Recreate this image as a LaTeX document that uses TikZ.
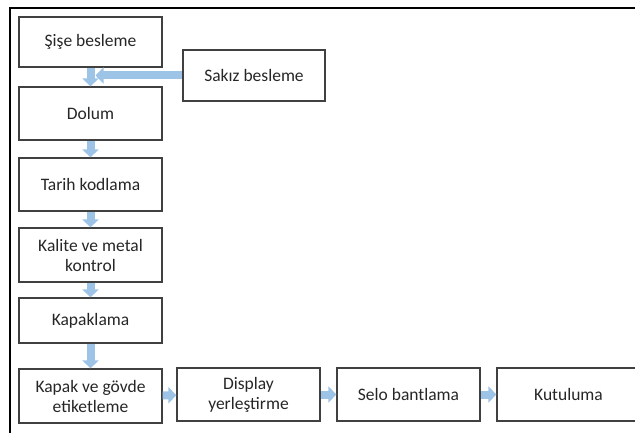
\documentclass[tikz,border=0pt]{standalone}
\usepackage{fontspec}
\setmainfont{Carlito}
\usetikzlibrary{arrows.meta, calc}

\definecolor{flowblue}{RGB}{157, 195, 230}
\definecolor{boxline}{RGB}{64, 64, 64}

\begin{document}
\begin{tikzpicture}[x = 1pt, y = -1pt,
	box/.style = {draw = boxline, line width = 1.2pt, minimum width = 143pt, minimum height = 53pt,
		align = center, font = \fontsize{17.5}{20}\selectfont, inner sep = 2pt, text = black!85},
	flow/.style = {draw = flowblue, line width = 8pt, -{Triangle[width = 16pt, length = 8pt]}}]

% Page size

\useasboundingbox (0, 0) rectangle (635, 433);

% Outer frame

\draw [line width = 1.8pt] (10, 440) -- (10, 8) -- (645, 8);

% Main column

\node [box, minimum height = 50pt] (sise) at (90.5, 42) {Şişe besleme};
\node [box, minimum height = 51pt, minimum width = 142pt] (sakiz) at (254, 75.5) {Sakız besleme};
\node [box] (dolum) at (90.5, 113.5) {Dolum};
\node [box] (tarih) at (90.5, 184.5) {Tarih kodlama};
\node [box, minimum height = 54pt] (kalite) at (90.5, 255) {Kalite ve metal\\kontrol};
\node [box, minimum height = 45pt] (kapaklama) at (90.5, 320.5) {Kapaklama};
\node [box, minimum height = 54pt] (etiket) at (90.5, 396) {Kapak ve gövde\\etiketleme};

% Bottom row

\node [box] (display) at (248.5, 394.5) {Display\\yerleştirme};
\node [box] (selo) at (408.5, 394.5) {Selo bantlama};
\node [box] (kutu) at (568.5, 394.5) {Kutuluma};

% Flow arrows

\draw [flow] (sise) -- (dolum);
\coordinate (merge) at ($(sise.south)!0.5!(dolum.north) + (5, 0)$);
\draw [flow] (sakiz.west) -- (sakiz.west -| merge);
\draw [flow] (dolum) -- (tarih);
\draw [flow] (tarih) -- (kalite);
\draw [flow] (kalite) -- (kapaklama);
\draw [flow] (kapaklama) -- (etiket);
\draw [flow] (etiket) -- (display);
\draw [flow] (display) -- (selo);
\draw [flow] (selo) -- (kutu);

\end{tikzpicture}
\end{document}
